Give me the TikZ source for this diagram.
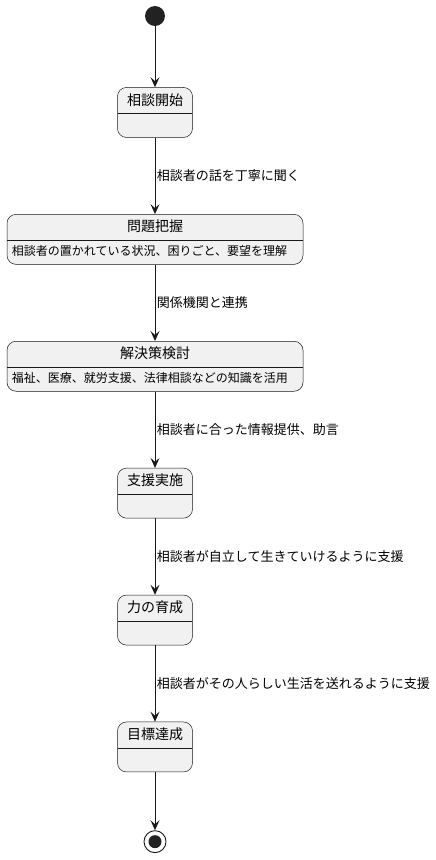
\documentclass[tikz,border=0pt]{standalone}
\usepackage{fontspec}
\setmainfont{Noto Sans CJK JP}
\usepackage{xcolor}
\usepackage{tikz}
\usetikzlibrary{arrows.meta}
\usetikzlibrary{positioning}
\definecolor{statefill}{HTML}{F1F1F1}
\definecolor{lineclr}{HTML}{181818}
\definecolor{dotclr}{HTML}{222222}

\begin{document}
\begin{tikzpicture}[->,>={Stealth[length=10pt,width=9pt,inset=4pt]},node distance=76.4pt,
  every edge/.style={draw=lineclr, line width=0.9pt}]
 				 \tikzstyle{state}=[draw=lineclr, line width=0.5pt, fill=statefill, rounded corners=9pt, minimum width=75pt, minimum height=50pt, inner sep=0pt,
 				   path picture={\draw[-, lineclr, line width=0.5pt] ([yshift=-1pt]path picture bounding box.west) -- ([yshift=-1pt]path picture bounding box.east);}]
 				 \tikzstyle{wide}=[minimum width=296pt]
 				 \tikzstyle{title}=[font=\fontsize{14}{16}\selectfont, anchor=center, yshift=-12.5pt, inner sep=0pt]
 				 \tikzstyle{desc}=[font=\fontsize{12}{14}\selectfont, anchor=west, xshift=5pt, yshift=14pt, inner sep=0pt]
 				 \tikzstyle{lbl}=[right, font=\fontsize{13}{15}\selectfont, inner sep=1.5pt, text=black]
 				 \useasboundingbox (0,0) rectangle (436pt,-860pt);
 					 \node[circle, fill=dotclr, minimum size=20pt, inner sep=0pt] (initial) at (155pt,-16pt) {};
 					 \node[state, label={[title]north:相談開始}] (kaishi) [below=61pt of initial] {};
 					 \node[state, wide, label={[title]north:問題把握}, label={[desc]south west:相談者の置かれている状況、困りごと、要望を理解}] (haaku) [below=of kaishi] {};
 					 \node[state, wide, label={[title]north:解決策検討}, label={[desc]south west:福祉、医療、就労支援、法律相談などの知識を活用}] (kento) [below=of haaku] {};
 					 \node[state, label={[title]north:支援実施}] (jisshi) [below=of kento] {};
 					 \node[state, label={[title]north:力の育成}] (ikusei) [below=of jisshi] {};
 					 \node[state, label={[title]north:目標達成}] (tassei) [below=of ikusei] {};
 					 \node[circle, draw=lineclr, line width=0.9pt, fill=white, minimum size=22pt, inner sep=0pt,
 					   path picture={\fill[dotclr] (path picture bounding box.center) circle (6.5pt);}] (final) [below=58pt of tassei] {};
				\path
				(initial) edge (kaishi)
				(kaishi) edge node[lbl] {相談者の話を丁寧に聞く} (haaku)
				(haaku) edge node[lbl] {関係機関と連携} (kento)
				(kento) edge node[lbl] {相談者に合った情報提供、助言} (jisshi)
				(jisshi) edge node[lbl] {相談者が自立して生きていけるように支援} (ikusei)
				(ikusei) edge node[lbl] {相談者がその人らしい生活を送れるように支援} (tassei)
				(tassei) edge (final);
\end{tikzpicture}
\end{document}
